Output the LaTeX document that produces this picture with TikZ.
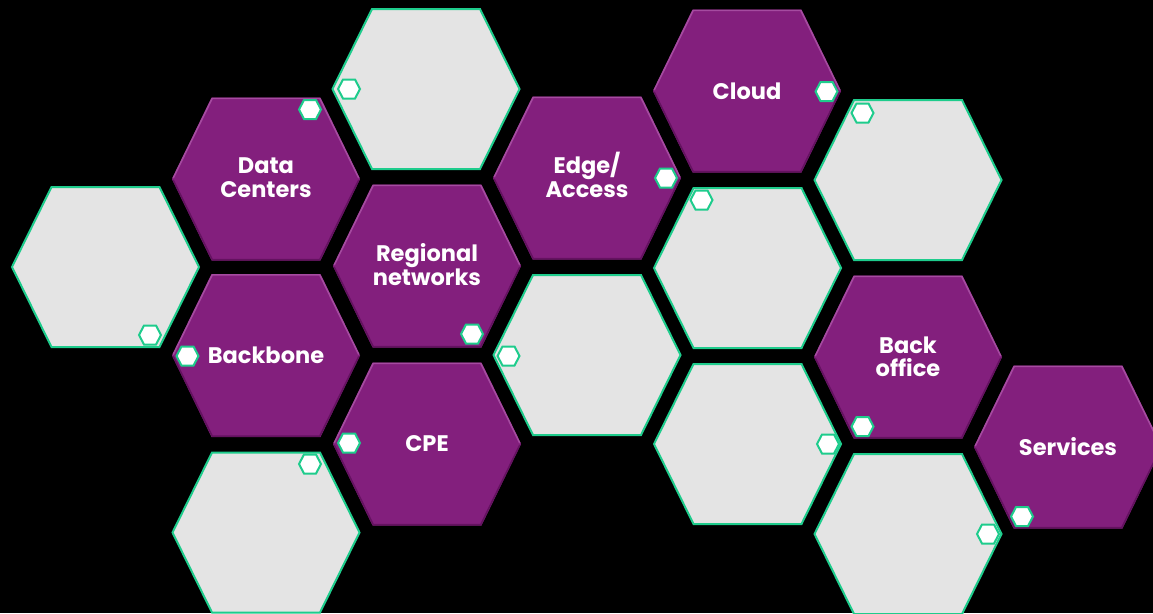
\documentclass[tikz,border=0pt]{standalone}
\usepackage{fontspec}
\setmainfont{Poppins}
\definecolor{hexpurple}{RGB}{131,31,125}
\definecolor{hexpurplelight}{RGB}{165,75,160}
\definecolor{hexpurpledark}{RGB}{100,18,96}
\definecolor{hexgrey}{RGB}{228,228,228}
\definecolor{hexgreen}{RGB}{30,204,140}
\tikzset{
  greyhex/.style={fill=hexgrey, draw=hexgreen, line width=2pt, line join=miter},
  purplefill/.style={fill=hexpurple},
  minihex/.style={fill=white, draw=hexgreen, line width=2pt, line join=miter},
  hexlabel/.style={text=white, font=\fontsize{22.5}{23.5}\selectfont\bfseries, align=center, inner sep=0pt},
}
% style, cx, cy, W (half width), a (half top edge), H (half height)
\newcommand{\hexshape}[6]{%
  \path[#1] (#2-#4,#3) -- (#2-#5,#3-#6) -- (#2+#5,#3-#6) -- (#2+#4,#3)
    -- (#2+#5,#3+#6) -- (#2-#5,#3+#6) -- cycle;}
\newcommand{\greyhexat}[2]{\hexshape{greyhex}{#1}{#2}{93.5}{54}{80}}
\newcommand{\minihexat}[2]{\hexshape{minihex}{#1}{#2}{11}{6}{9.5}}
\newcommand{\purplehexat}[2]{%
  \hexshape{purplefill}{#1}{#2}{94}{54.5}{81.5}%
  \draw[hexpurplelight, line width=1.6pt, line join=round] (#1-92.8,#2-1) -- (#1-53.8,#2-80.6) -- (#1+53.8,#2-80.6) -- (#1+92.8,#2-1);%
  \draw[hexpurpledark, line width=1.6pt, line join=round] (#1-92.8,#2+1) -- (#1-53.8,#2+80.6) -- (#1+53.8,#2+80.6) -- (#1+92.8,#2+1);}
\begin{document}
\begin{tikzpicture}[x=1pt,y=-1pt]
  \fill[black] (0,0) rectangle (1153,613);
  \useasboundingbox (0,0) rectangle (1153,613);
  \clip (0,0) rectangle (1153,613);
  % grey hexagons
  \greyhexat{105.5}{267}
  \greyhexat{426}{89}
  \greyhexat{266}{532.5}
  \greyhexat{587}{355}
  \greyhexat{747.5}{268}
  \greyhexat{747.5}{444}
  \greyhexat{908}{180}
  \greyhexat{908}{534}
  % purple hexagons
  \purplehexat{266}{179}
  \purplehexat{266}{355.5}
  \purplehexat{427}{266}
  \purplehexat{427}{444}
  \purplehexat{587}{178}
  \purplehexat{747}{91}
  \purplehexat{908}{357}
  \purplehexat{1068}{447}
  % labels
  \node[hexlabel] (dc)  at (266,177.5) {Data\\Centers};
  \node[hexlabel] (bb)  at (266,355.5) {Backbone};
  \node[hexlabel] (rn)  at (427,264.5) {Regional\\networks};
  \node[hexlabel] (cpe) at (427,444)   {CPE};
  \node[hexlabel] (ea)  at (587,175)   {Edge/\\Access};
  \node[hexlabel] (cl)  at (747,91)    {Cloud};
  \node[hexlabel] (bo)  at (908,357)   {Back\\office};
  \node[hexlabel] (sv)  at (1068,447)  {Services};
  % small hexagons
  \minihexat{310}{109.5}
  \minihexat{349}{89}
  \minihexat{826.5}{91.5}
  \minihexat{862.5}{113}
  \minihexat{666}{178}
  \minihexat{701.5}{200}
  \minihexat{150}{335}
  \minihexat{187.5}{356}
  \minihexat{472}{334}
  \minihexat{508.5}{356}
  \minihexat{349}{443}
  \minihexat{310}{464}
  \minihexat{828}{444}
  \minihexat{862.5}{426.5}
  \minihexat{988}{534}
  \minihexat{1022}{516.5}
\end{tikzpicture}
\end{document}
